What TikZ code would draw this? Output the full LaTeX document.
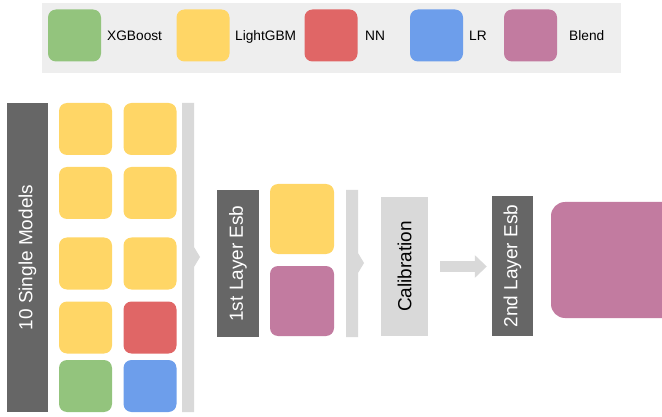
\documentclass[tikz,border=0pt]{standalone}
\usepackage{fontspec}
\setmainfont{Liberation Sans}
\usetikzlibrary{arrows.meta}

\definecolor{xgbgreen}{HTML}{93C47D}
\definecolor{lgbyellow}{HTML}{FFD666}
\definecolor{nnred}{HTML}{E06666}
\definecolor{lrblue}{HTML}{6D9EEB}
\definecolor{blendpurple}{HTML}{C27BA0}
\definecolor{stagegray}{HTML}{666666}
\definecolor{flowgray}{HTML}{D9D9D9}
\definecolor{legendbg}{HTML}{EEEEEE}

\tikzset{
  model/.style={rounded corners=8pt, minimum width=53pt, minimum height=52pt, inner sep=0pt},
  stage/.style={fill=stagegray, text=white, inner sep=0pt, font=\fontsize{19}{22}\selectfont},
  calibbox/.style={fill=flowgray, text=black, inner sep=0pt, font=\fontsize{19}{22}\selectfont},
  legendtext/.style={anchor=base west, inner sep=0pt, font=\fontsize{13.7}{16}\selectfont},
  flow/.style={draw=flowgray, line width=11pt, -{Triangle[length=12pt,width=22pt]}, shorten <=12pt, shorten >=5pt}
}

\begin{document}
\begin{tikzpicture}[x=1pt, y=-1pt]
\useasboundingbox (0,0) rectangle (662,417);
\clip (0,0) rectangle (662,417);

% legend
\fill[legendbg] (42,3) rectangle (621,73);
\node[model, fill=xgbgreen] (kxgb) at (74.5,35.5) {};
\node[legendtext] (lxgb) at (107,41) {XGBoost};
\node[model, fill=lgbyellow] (klgb) at (203,35.5) {};
\node[legendtext] (llgb) at (235,41) {LightGBM};
\node[model, fill=nnred] (knn) at (331,35.5) {};
\node[legendtext] (lnn) at (365,41) {NN};
\node[model, fill=lrblue] (klr) at (436.5,35.5) {};
\node[legendtext] (llr) at (469,41) {LR};
\node[model, fill=blendpurple] (kblend) at (530.5,35.5) {};
\node[legendtext] (lblend) at (569,41) {Blend};

% 10 single models
\node[stage, minimum width=41pt, minimum height=309pt] (single) at (27.5,257.5) {\rotatebox{90}{10 Single Models}};
\node[model, fill=lgbyellow] (m1) at (85.5,129) {};
\node[model, fill=lgbyellow] (m2) at (150,129) {};
\node[model, fill=lgbyellow] (m3) at (85.5,193) {};
\node[model, fill=lgbyellow] (m4) at (150,193) {};
\node[model, fill=lgbyellow] (m5) at (85.5,263.5) {};
\node[model, fill=lgbyellow] (m6) at (150,263.5) {};
\node[model, fill=lgbyellow] (m7) at (85.5,327.5) {};
\node[model, fill=nnred] (m8) at (150,327.5) {};
\node[model, fill=xgbgreen] (m9) at (85.5,386) {};
\node[model, fill=lrblue] (m10) at (150,386) {};
\fill[flowgray] (182,103) -- (194,103) -- (194,247) -- (200,257) -- (194,267) -- (194,412) -- (182,412) -- cycle;

% 1st layer ensemble
\node[stage, minimum width=42pt, minimum height=147pt] (esb1) at (238,263.5) {\rotatebox{90}{1st Layer Esb}};
\node[model, fill=lgbyellow, minimum width=64pt, minimum height=70pt] (e1) at (302,219) {};
\node[model, fill=blendpurple, minimum width=64pt, minimum height=70pt] (e2) at (302,301) {};
\fill[flowgray] (346,190) -- (358,190) -- (358,253) -- (364,263) -- (358,273) -- (358,337) -- (346,337) -- cycle;

% calibration
\node[calibbox, minimum width=47pt, minimum height=139pt] (calib) at (404.5,266.5) {\rotatebox{90}{Calibration}};

% 2nd layer ensemble
\node[stage, minimum width=41pt, minimum height=140pt] (esb2) at (512.5,266) {\rotatebox{90}{2nd Layer Esb}};
\draw[flow] (calib.east) -- (calib.east -| esb2.west);
\node[model, fill=blendpurple, rounded corners=14pt, minimum width=129pt, minimum height=116pt] (final) at (615.5,260) {};
\end{tikzpicture}
\end{document}
